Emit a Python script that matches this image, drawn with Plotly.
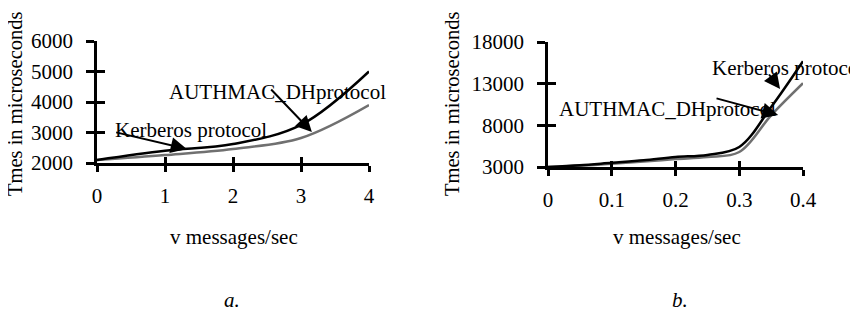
import plotly.graph_objects as go

# ---- data ----
a_x = [0, 1, 2, 3, 4]
a_kerberos = [2100, 2400, 2620, 3250, 5000]
a_authmac = [2100, 2260, 2460, 2820, 3900]

b_x = [0, 0.05, 0.1, 0.15, 0.2, 0.25, 0.3, 0.35, 0.4]
b_kerberos = [3000, 3200, 3500, 3800, 4200, 4450, 5400, 10200, 15700]
b_authmac = [3000, 3150, 3400, 3650, 3950, 4200, 4800, 9200, 13050]

a_xticks = [0, 1, 2, 3, 4]
a_xticktext = ["0", "1", "2", "3", "4"]
a_yticks = [2000, 3000, 4000, 5000, 6000]
a_yticktext = ["2000", "3000", "4000", "5000", "6000"]
b_xticks = [0, 0.1, 0.2, 0.3, 0.4]
b_xticktext = ["0", "0.1", "0.2", "0.3", "0.4"]
b_yticks = [3000, 8000, 13000, 18000]
b_yticktext = ["3000", "8000", "13000", "18000"]

FONT = "Liberation Serif"
W, H = 858, 321
OFF = 8  # page body margin in the screenshot

def px(x):
    return (x - OFF) / W

def py(y):
    return 1 - (y - OFF) / H

fig = go.Figure()

def line(x, y, color, xa, ya, name):
    return go.Scatter(x=x, y=y, mode="lines", name=name,
                      line=dict(color=color, width=2.5, shape="spline", smoothing=1),
                      xaxis=xa, yaxis=ya, hoverinfo="skip")

fig.add_trace(line(a_x, a_authmac, "#707070", "x", "y", "AUTHMAC_DHprotocol"))
fig.add_trace(line(a_x, a_kerberos, "#000000", "x", "y", "Kerberos protocol"))
fig.add_trace(line(b_x, b_authmac, "#707070", "x2", "y2", "AUTHMAC_DHprotocol"))
fig.add_trace(line(b_x, b_kerberos, "#000000", "x2", "y2", "Kerberos protocol"))
# invisible helper traces so the overlay axes (inner tick halves) get drawn
fig.add_trace(go.Scatter(x=a_x, y=a_kerberos, mode="markers", marker=dict(opacity=0),
                         xaxis="x3", yaxis="y3", hoverinfo="skip"))
fig.add_trace(go.Scatter(x=b_x, y=b_kerberos, mode="markers", marker=dict(opacity=0),
                         xaxis="x4", yaxis="y4", hoverinfo="skip"))

tickfont = dict(family=FONT, size=21, color="black")

def main_axis(domain, rng, tickvals, ticktext, anchor, ticklen, standoff):
    return dict(domain=domain, range=rng, tickvals=tickvals, ticktext=ticktext, anchor=anchor,
                showline=True, linecolor="black", linewidth=2.5,
                ticks="outside", ticklen=ticklen, tickwidth=2.5, tickcolor="black",
                ticklabelstandoff=standoff,
                showgrid=False, zeroline=False, tickfont=tickfont, fixedrange=True,
                automargin=False)

def inner_axis(overlay, rng, tickvals, anchor, ticklen, side):
    return dict(overlaying=overlay, range=rng, tickvals=tickvals, anchor=anchor, side=side,
                showline=False, ticks="inside", ticklen=ticklen, tickwidth=2.5,
                tickcolor="black", showticklabels=False, showgrid=False, zeroline=False,
                fixedrange=True, automargin=False)

a_xdom = [px(97), px(369)]
b_xdom = [px(548), px(803)]
a_ydom = [py(163), py(41)]
b_ydom = [py(167), py(42)]

fig.update_layout(
    width=W, height=H, margin=dict(l=0, r=0, t=0, b=0, pad=0, autoexpand=False),
    paper_bgcolor="white", plot_bgcolor="white", showlegend=False,
    xaxis=main_axis(a_xdom, [0, 4], a_xticks, a_xticktext, "y", 6, 6),
    yaxis=main_axis(a_ydom, [2000, 6000], a_yticks, a_yticktext, "x", 8, 9),
    xaxis2=main_axis(b_xdom, [0, 0.4], b_xticks, b_xticktext, "y2", 6, 6),
    yaxis2=main_axis(b_ydom, [3000, 18000], b_yticks, b_yticktext, "x2", 8, 9),
    xaxis3=inner_axis("x", [0, 4], a_xticks, "y3", 6, "bottom"),
    yaxis3=inner_axis("y", [2000, 6000], a_yticks, "x3", 8, "left"),
    xaxis4=inner_axis("x2", [0, 0.4], b_xticks, "y4", 6, "bottom"),
    yaxis4=inner_axis("y2", [3000, 18000], b_yticks, "x4", 8, "left"),
)

txt = dict(family=FONT, size=21, color="black")
ann = []

def arrow(xr, yr, x, y, ax, ay):
    return dict(xref=xr, yref=yr, axref=xr, ayref=yr, x=x, y=y, ax=ax, ay=ay,
                showarrow=True, arrowhead=2, arrowsize=1.6, arrowwidth=2, arrowcolor="black", text="")

ann.append(arrow("x", "y", 1.32, 2460, 0.26, 3016))
ann.append(arrow("x", "y", 3.16, 3016, 2.54, 4460))
ann.append(arrow("x2", "y2", 0.364, 12360, 0.345, 14280))
ann.append(arrow("x2", "y2", 0.361, 9240, 0.262, 11280))

def label(xr, yr, x, y, text, xanchor="left", angle=0, font=txt):
    return dict(xref=xr, yref=yr, x=x, y=y, text=text, showarrow=False,
                xanchor=xanchor, yanchor="middle", font=font, textangle=angle)

ann.append(label("x", "y", 0.235, 3080, "Kerberos protocol"))
ann.append(label("x", "y", 1.03, 4330, "AUTHMAC_DHprotocol"))
ann.append(label("x2", "y2", 0.254, 14880, "Kerberos protocol"))
ann.append(label("x2", "y2", 0.014, 9960, "AUTHMAC_DHprotocol"))

ytxt = dict(family=FONT, size=20.5, color="black")
ann.append(label("paper", "paper", px(234), py(237), "v messages/sec", "center"))
ann.append(label("paper", "paper", px(677), py(237), "v messages/sec", "center"))
ann.append(label("paper", "paper", px(15), py(104), "Tmes in microseconds", "center", -90, ytxt))
ann.append(label("paper", "paper", px(452), py(104), "Tmes in microseconds", "center", -90, ytxt))
ann.append(label("paper", "paper", px(232), py(300), "<i>a.</i>", "center"))
ann.append(label("paper", "paper", px(680), py(300), "<i>b.</i>", "center"))

fig.update_layout(annotations=ann)
fig.write_html("out.html")
